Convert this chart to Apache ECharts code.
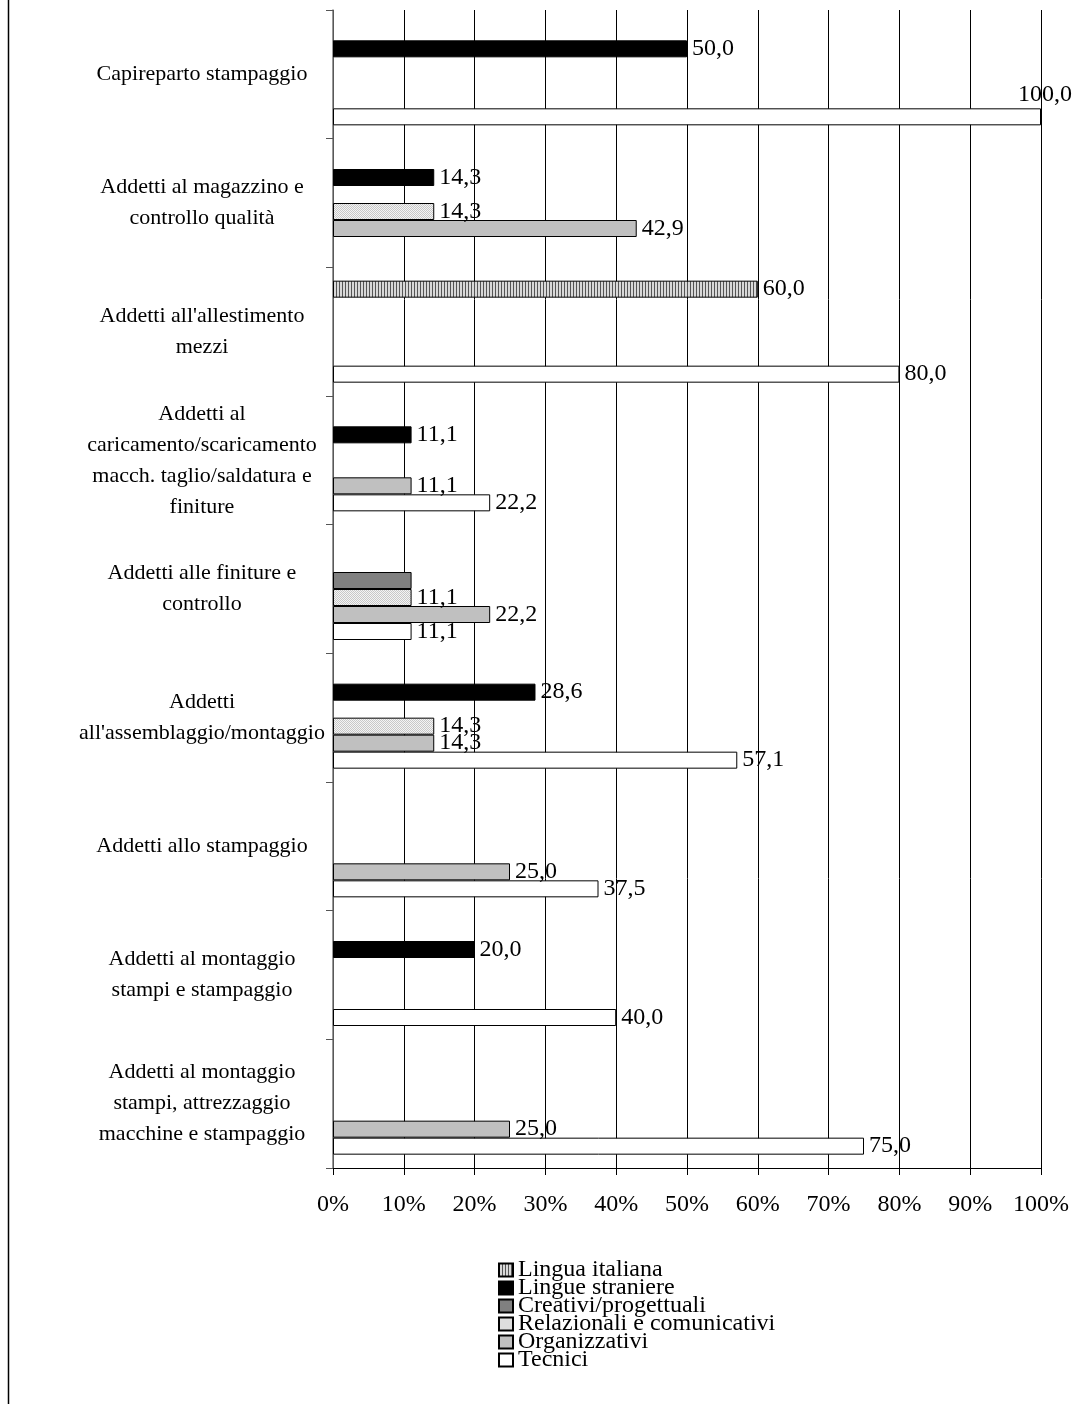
<!DOCTYPE html>
<html>
	<head>
		<meta charset="UTF-8">
		<title></title>
		<style>
			html, body { margin: 0; padding: 0; background: #fff; }
			#main { width: 1089px; height: 1404px; }
		</style>
	</head>
	<script src="https://cdn.jsdelivr.net/npm/echarts@6/dist/echarts.min.js"></script>
	<body>
		<div id="main"></div>
	</body>
	<script>
		// categorie (dall'alto verso il basso)
		var categories = [
			'Capireparto stampaggio',
			'Addetti al magazzino e\ncontrollo qualità',
			"Addetti all'allestimento\nmezzi",
			'Addetti al\ncaricamento/scaricamento\nmacch. taglio/saldatura e\nfiniture',
			'Addetti alle finiture e\ncontrollo',
			"Addetti\nall'assemblaggio/montaggio",
			'Addetti allo stampaggio',
			'Addetti al montaggio\nstampi e stampaggio',
			'Addetti al montaggio\nstampi, attrezzaggio\nmacchine e stampaggio'
		]

		// valori %, null = nessuna barra
		var linguaItaliana   = [null, null, 60.0, null, null, null, null, null, null]
		var lingueStraniere  = [50.0, 14.3, null, 11.1, null, 28.6, null, 20.0, null]
		var creativi         = [null, null, null, null, 11.1, null, null, null, null]
		var relazionali      = [null, 14.3, null, null, 11.1, 14.3, null, null, null]
		var organizzativi    = [null, 42.9, null, 11.1, 22.2, 14.3, 25.0, null, 25.0]
		var tecnici          = [100.0, null, 80.0, 22.2, 11.1, 57.1, 37.5, 40.0, 75.0]

		var xTicks = ['0%', '10%', '20%', '30%', '40%', '50%', '60%', '70%', '80%', '90%', '100%']

		var font = 'Liberation Serif'

		// texture a righe verticali
		function stripes () {
			var c = document.createElement('canvas')
			c.width = 3
			c.height = 3
			var ctx = c.getContext('2d')
			ctx.fillStyle = '#d8d8d8'
			ctx.fillRect(0, 0, 3, 3)
			ctx.fillStyle = '#555'
			ctx.fillRect(0, 0, 1, 3)
			return c
		}

		// texture puntinata chiara
		function dots () {
			var c = document.createElement('canvas')
			c.width = 2
			c.height = 2
			var ctx = c.getContext('2d')
			ctx.fillStyle = '#f4f4f4'
			ctx.fillRect(0, 0, 2, 2)
			ctx.fillStyle = '#c8c8c8'
			ctx.fillRect(0, 0, 1, 1)
			ctx.fillRect(1, 1, 1, 1)
			return c
		}

		function fmt (p) {
			return p.value.toFixed(1).replace('.', ',')
		}

		function makeData (arr) {
			return arr.map(function (v) {
				if (v === 100) {
					// etichetta sopra la barra, altrimenti esce dal grafico
					return {
						value: v,
						label: { position: ['100%', 0], align: 'center', verticalAlign: 'bottom', offset: [4, -2] }
					}
				}
				return v
			})
		}

		function bar (name, arr, color, showLabel) {
			return {
				name: name,
				type: 'bar',
				data: makeData(arr),
				barWidth: 17,
				barGap: '0%',
				itemStyle: { color: color, borderColor: '#000', borderWidth: 1 },
				label: {
					show: showLabel,
					position: 'right',
					distance: 5,
					color: '#000',
					fontFamily: font,
					fontSize: 24,
					formatter: fmt
				}
			}
		}

		var myChart = echarts.init(document.getElementById('main'))

		var option = {
			backgroundColor: '#fff',
			animation: false,
			textStyle: { fontFamily: font },
			grid: { left: 333, right: 48, top: 10, bottom: 236, containLabel: false },
			legend: {
				orient: 'vertical',
				left: 493,
				top: 1253,
				height: 200,
				icon: 'rect',
				itemWidth: 14,
				itemHeight: 13,
				itemGap: -6,
				textStyle: { fontFamily: font, fontSize: 24, color: '#000' },
				data: ['Lingua italiana', 'Lingue straniere', 'Creativi/progettuali', 'Relazionali e comunicativi', 'Organizzativi', 'Tecnici']
			},
			xAxis: {
				type: 'value',
				min: 0,
				max: 100,
				interval: 10,
				axisLine: { show: true, lineStyle: { color: '#000', width: 1 } },
				axisTick: { show: true, length: 7, lineStyle: { color: '#000' } },
				axisLabel: {
					margin: 25,
					color: '#000',
					fontFamily: font,
					fontSize: 24,
					formatter: function (v) { return xTicks[Math.round(v / 10)] }
				},
				splitLine: { show: true, lineStyle: { color: '#000', width: 1 } }
			},
			yAxis: {
				type: 'category',
				inverse: true,
				data: categories,
				axisLine: { lineStyle: { color: '#777', width: 1.5 } },
				axisTick: { show: true, length: 7, lineStyle: { color: '#555' } },
				axisLabel: {
					align: 'center',
					margin: 131,
					color: '#000',
					fontFamily: font,
					fontSize: 22,
					lineHeight: 31
				}
			},
			graphic: [{
				type: 'line',
				shape: { x1: 8.5, y1: 0, x2: 8.5, y2: 1404 },
				style: { stroke: '#000', lineWidth: 1.5 }
			}],
			series: [
				bar('Lingua italiana', linguaItaliana, { image: stripes(), repeat: 'repeat' }, true),
				bar('Lingue straniere', lingueStraniere, '#000', true),
				bar('Creativi/progettuali', creativi, '#808080', false),
				bar('Relazionali e comunicativi', relazionali, { image: dots(), repeat: 'repeat' }, true),
				bar('Organizzativi', organizzativi, '#c0c0c0', true),
				bar('Tecnici', tecnici, '#fff', true)
			]
		}

		myChart.setOption(option)
	</script>
</html>
